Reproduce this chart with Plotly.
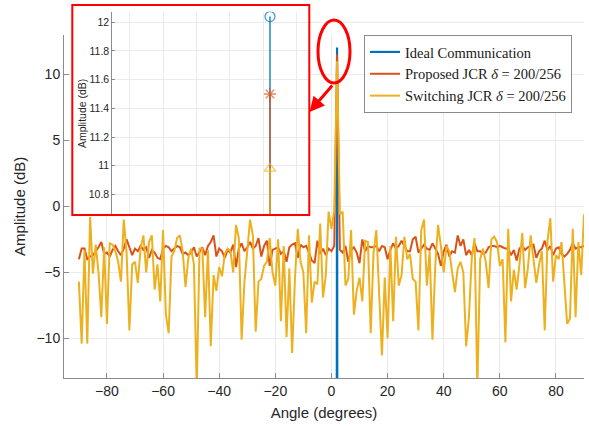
import plotly.graph_objects as go

# ---------------- data ----------------
angles_deg = list(range(-90, 91))

switching_db = [
    -5.7, -10.4, -3.3, -10.4, -0.8, -5.1, -2.9, -5.0, -8.4, -3.1,
    -8.9, -2.8, -2.9, -3.4, -4.2, -5.7, -1.0, -3.5, -9.4, -4.4,
    -4.2, -5.8, -3.2, -2.2, -5.0, -2.7, -2.2, -6.3, -4.4, -7.2,
    -1.8, -8.2, -9.6, -3.8, -3.4, -2.4, -2.2, -3.4, -6.1, -3.9,
    -3.2, -4.4, -13.8, -3.2, -3.2, -8.4, -3.3, -10.6, -5.2, -6.4,
    -4.6, -5.3, -3.6, -3.2, -3.4, -5.0, -1.4, -2.4, -10.1, -5.7,
    -3.4, -1.0, -2.2, -9.5, -5.7, -5.5, -4.5, -4.2, -2.4, -5.0,
    -6.0, -2.5, -8.7, -3.0, -9.9, -4.7, -11.1, -5.5, -1.7, -4.2,
    -5.0, -9.6, -2.2, -7.3, -5.7, -5.9, -1.3, -6.9, -5.2, -0.4,
    -1.7, -0.3, 10.98, -0.6, -0.4, -6.0, -5.5, -1.8, -8.2, -6.4,
    -5.4, -7.2, -2.6, -2.7, -9.6, -3.5, -1.8, -6.8, -11.3, -5.4,
    -10.0, -3.0, -8.7, -2.3, -6.0, -5.2, -2.3, -4.0, -3.6, -5.5,
    -5.7, -9.4, -1.8, -1.0, -6.0, -3.4, -10.1, -4.5, -1.4, -3.0,
    -5.0, -3.0, -3.4, -5.0, -6.5, -4.7, -4.2, -5.0, -10.6, -8.4,
    -3.9, -2.4, -13.8, -4.0, -3.2, -4.2, -6.2, -2.5, -2.3, -2.7,
    -4.5, -4.0, -10.3, -1.7, -7.2, -4.8, -6.3, -4.4, -2.0, -6.2,
    -4.7, -2.2, -4.2, -5.8, -4.4, -3.4, -9.4, -2.6, -0.9, -5.7,
    -3.7, -4.0, -2.7, -6.0, -8.9, -8.5, -1.7, -8.4, -2.7, -5.2,
    -0.6,
]

proposed_db = [
    -4.0, -3.2, -3.2, -4.0, -3.8, -3.7, -3.4, -3.1, -2.7, -3.6,
    -3.5, -3.8, -3.3, -3.0, -3.4, -3.7, -3.2, -2.5, -3.1, -3.7,
    -3.2, -3.4, -3.0, -3.3, -3.1, -3.9, -3.3, -3.5, -3.9, -4.0,
    -3.2, -3.0, -3.1, -3.4, -3.2, -3.0, -3.1, -3.6, -3.5, -3.7,
    -3.5, -3.1, -3.8, -3.4, -3.1, -3.7, -3.0, -2.7, -2.2, -3.8,
    -3.2, -3.4, -3.9, -3.3, -3.5, -2.9, -4.6, -3.2, -2.8, -3.4,
    -3.1, -2.7, -3.2, -3.0, -2.4, -3.8, -3.0, -2.6, -4.5, -3.3,
    -3.2, -3.1, -3.6, -3.4, -4.2, -3.1, -2.9, -2.8, -3.9, -2.9,
    -3.1, -3.0, -3.5, -4.1, -4.3, -2.6, -3.6, -3.2, -3.7, -3.2,
    -3.4, -3.0, 11.5, -3.3, -3.5, -3.0, -4.2, -3.3, -3.1, -3.5,
    -4.3, -2.5, -3.4, -3.0, -3.1, -3.1, -3.0, -3.4, -3.0, -3.1,
    -4.0, -3.3, -2.8, -3.2, -3.0, -2.6, -3.0, -3.4, -3.4, -2.5,
    -2.3, -3.5, -3.2, -2.9, -3.2, -3.3, -2.8, -3.2, -3.6, -4.5,
    -3.4, -2.9, -3.8, -3.4, -3.5, -2.2, -3.0, -2.5, -3.7, -3.3,
    -3.7, -2.8, -3.4, -3.4, -3.6, -3.5, -3.1, -3.0, -3.0, -3.1,
    -3.0, -3.1, -3.2, -3.2, -3.7, -3.3, -4.1, -3.2, -3.0, -3.3,
    -3.1, -3.0, -2.9, -3.9, -3.4, -3.2, -2.6, -3.3, -3.0, -3.7,
    -3.2, -3.1, -3.6, -3.8, -3.6, -3.3, -2.8, -3.2, -3.1, -3.1,
    -3.0,
]

# ideal beampattern: a single lobe at the target angle, numerically -300 dB elsewhere
ideal_floor_db = -300.0
ideal_peak_db = 12.04
target_angle = 2
ideal_db = [ideal_peak_db if a == target_angle else ideal_floor_db for a in angles_deg]

series_names = ["Ideal Communication",
                "Proposed JCR <i>δ</i> = 200/256",
                "Switching JCR <i>δ</i> = 200/256"]
series_colors = ["#0072BD", "#D95319", "#EDB120"]
inset_symbols = ["circle-open", "asterisk-open", "triangle-up-open"]

x_ticks = [-80, -60, -40, -20, 0, 20, 40, 60, 80]
y_ticks = [-10, -5, 0, 5, 10]
inset_y_ticks = [10.8, 11.0, 11.2, 11.4, 11.6, 11.8, 12.0]
inset_y_ticktext = ["10.8", "11", "11.2", "11.4", "11.6", "11.8", "12"]

# ---------------- layout helpers (pixel -> paper) ----------------
W, H = 589, 428
ML, MR, MT, MB = 64, 5, 5, 50
PW, PH = W - ML - MR, H - MT - MB


def px(x):
    return (x - ML) / PW


def py(y):
    return (H - MB - y) / PH


fig = go.Figure()

all_series = [ideal_db, proposed_db, switching_db]
for name, col, ys in zip(series_names, series_colors, all_series):
    fig.add_trace(go.Scatter(
        x=angles_deg, y=ys, mode="lines", name=name,
        line=dict(color=col, width=2.2 if col == "#0072BD" else 2),
        xaxis="x", yaxis="y", showlegend=True,
    ))

# dummy subplot giving the inset its white background
fig.add_trace(go.Scatter(x=[None], y=[None], xaxis="x2", yaxis="y2",
                         showlegend=False, hoverinfo="skip"))

# inset: stems at the target angle
peak_idx = angles_deg.index(target_angle)
for col, ys, sym in zip(series_colors, all_series, inset_symbols):
    fig.add_trace(go.Scatter(
        x=[angles_deg[peak_idx], angles_deg[peak_idx]],
        y=[ys[peak_idx], ideal_floor_db],
        mode="lines+markers",
        line=dict(color=col, width=1.3),
        marker=dict(symbol=sym, size=[10, 0], color=col,
                    line=dict(color=col, width=1.3)),
        xaxis="x3", yaxis="y3", showlegend=False,
    ))

axis_gray = "#8c8c8c"
grid_gray = "#ebebeb"
tick_col = "#262626"
sans = "Liberation Sans, Arial, sans-serif"

fig.update_layout(
    width=W, height=H,
    margin=dict(l=ML, r=MR, t=MT, b=MB),
    paper_bgcolor="white", plot_bgcolor="white",
    font=dict(family=sans, color=tick_col),
    xaxis=dict(
        domain=[0, 1], range=[-95.3, 90], tickvals=x_ticks,
        showgrid=True, gridcolor=grid_gray, zeroline=False,
        showline=True, linecolor=axis_gray, linewidth=1,
        ticks="inside", ticklen=5, tickcolor=axis_gray,
        tickfont=dict(size=14, color=tick_col),
        title=dict(text="Angle (degrees)", font=dict(size=15, color=tick_col), standoff=9),
        anchor="y",
    ),
    yaxis=dict(
        domain=[0, py(34.7)], range=[-13, 13], tickvals=y_ticks,
        showgrid=True, gridcolor=grid_gray, zeroline=False,
        showline=True, linecolor=axis_gray, linewidth=1,
        ticks="inside", ticklen=5, tickcolor=axis_gray,
        tickfont=dict(size=14, color=tick_col),
        title=dict(text="Amplitude (dB)", font=dict(size=15, color=tick_col), standoff=7),
        anchor="x",
    ),
    xaxis2=dict(domain=[px(72.3), px(309.3)], range=[0, 1], visible=False, anchor="y2"),
    yaxis2=dict(domain=[py(215), 1.0], range=[0, 1], visible=False, anchor="x2"),
    xaxis3=dict(
        domain=[px(112.3), px(309.3)], range=[1.5278, 2.1177],
        tick0=1.98, dtick=0.1, showticklabels=False, ticks="",
        showgrid=True, gridcolor=grid_gray, zeroline=False, showline=False,
        anchor="y3",
    ),
    yaxis3=dict(
        domain=[py(215), py(11.7)], range=[10.656, 12.074],
        tickvals=inset_y_ticks, ticktext=inset_y_ticktext,
        showgrid=True, gridcolor=grid_gray, zeroline=False,
        showline=True, linecolor=axis_gray, linewidth=1,
        ticks="inside", ticklen=3, tickcolor=axis_gray,
        tickfont=dict(size=10.5, color=tick_col),
        title=dict(text="Amplitude (dB)", font=dict(size=10.5, color=tick_col), standoff=0),
        anchor="x3",
    ),
    legend=dict(
        x=px(364), y=py(35), xanchor="left", yanchor="top",
        bgcolor="white", bordercolor="#8a8a8a", borderwidth=1,
        font=dict(family="Liberation Serif, Times New Roman, serif", size=14.5, color="#1a1a1a"),
        tracegroupgap=0, itemwidth=30,
    ),
    showlegend=True,
)

# faint continuation of the inset's 12 dB grid line
fig.add_shape(type="line", xref="paper", yref="paper",
              x0=px(309.3), x1=1.0, y0=py(22.3), y1=py(22.3),
              line=dict(color="#e6e6e6", width=1), layer="below")

# red inset frame
fig.add_shape(type="rect", xref="paper", yref="paper",
              x0=px(72.3), x1=px(309.3), y0=py(215), y1=py(5),
              line=dict(color="#ff0000", width=2), fillcolor="rgba(0,0,0,0)")

# red ellipse around the main lobe
fig.add_shape(type="circle", xref="paper", yref="paper",
              x0=px(318), x1=px(350), y0=py(83), y1=py(20),
              line=dict(color="#ff0000", width=3))

# red arrow from the ellipse to the inset
fig.add_annotation(x=px(309.5), y=py(112), xref="paper", yref="paper",
                   ax=24, ay=-28, text="", showarrow=True,
                   arrowhead=2, arrowsize=1, arrowwidth=3, arrowcolor="#ff0000")

fig.write_html("out.html")
